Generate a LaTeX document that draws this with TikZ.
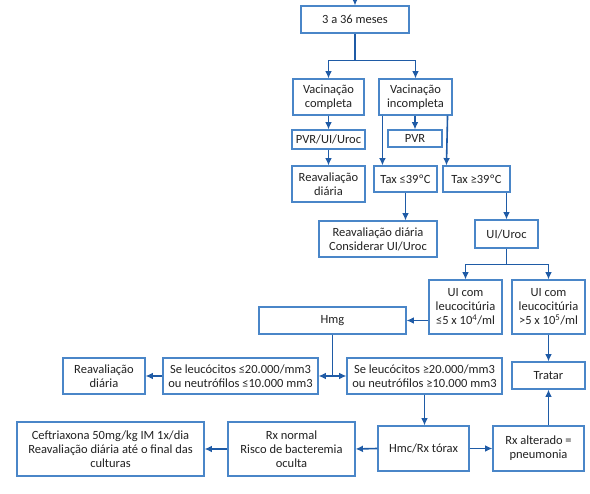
\documentclass[tikz,border=0pt]{standalone}
\usepackage{fontspec}
\setmainfont{Carlito}
\usepackage{xcolor}
\usepackage{tikz}
\usetikzlibrary{arrows.meta,calc,positioning}
\definecolor{boxline}{HTML}{4A86C8}
\definecolor{flow}{HTML}{1F5BA6}
\definecolor{ink}{HTML}{222222}
\tikzset{
  stepbox/.style={
    draw=boxline,
    line width=1.1pt,
    fill=white,
    align=center,
    text=ink,
    font=\fontsize{12.5}{14}\selectfont,
    inner sep=1pt
  },
  arr/.style={line width=1.6pt, draw=flow, -{Latex[length=2.6mm,width=2.4mm]}}
}
\newcommand{\boxat}[5]{%
  \node[stepbox, minimum width=#3, minimum height=#4] (#1) at (#2) {#5};
}

\begin{document}
\begin{tikzpicture}[x=1pt,y=-1pt]
\path[use as bounding box, fill=white] (0,0) rectangle (590,494);

% idade e vacinacao
\boxat{age}{355,19.5}{108pt}{27pt}{3 a 36 meses}
\boxat{compl}{328.5,97}{71pt}{36pt}{Vacinação\\completa}
\boxat{incompl}{415.5,97}{73pt}{36pt}{Vacinação\\incompleta}
\boxat{pvrui}{328.5,139.5}{73pt}{19pt}{PVR/UI/Uroc}
\boxat{reavA}{328.5,184}{73pt}{36pt}{Reavaliação\\diária}
\boxat{pvr}{415,138.5}{54pt}{17pt}{PVR}
\boxat{taxlow}{405.5,179}{63pt}{26pt}{Tax ≤39ºC}
\boxat{taxhigh}{476.5,179}{67pt}{26pt}{Tax ≥39ºC}
\boxat{reavB}{378,239}{118pt}{36pt}{Reavaliação diária\\Considerar UI/Uroc}
\boxat{uiuroc}{506.5,234}{63pt}{28pt}{UI/Uroc}

% urina
\boxat{uilow}{465.5,307}{73pt}{54pt}{UI com\\leucocitúria\\≤5 x 10\textsuperscript{4}/ml}
\boxat{uihigh}{548.5,307}{73pt}{54pt}{UI com\\leucocitúria\\>5 x 10\textsuperscript{5}/ml}
\boxat{hmg}{332.5,320.5}{147pt}{27pt}{Hmg}
\boxat{reavC}{104,376}{82pt}{36pt}{Reavaliação\\diária}
\boxat{seleft}{240.5,376}{155pt}{36pt}{Se leucócitos ≤20.000/mm3\\ou neutrófilos ≤10.000 mm3}
\boxat{seright}{424.5,376}{155pt}{36pt}{Se leucócitos ≥20.000/mm3\\ou neutrófilos ≥10.000 mm3}
\boxat{tratar}{548.5,375.5}{73pt}{27pt}{Tratar}

% radiografia
\boxat{ceft}{110.5,449}{187pt}{54pt}{Ceftriaxona 50mg/kg IM 1x/dia\\Reavaliação diária até o final das\\culturas}
\boxat{rxnorm}{291.5,449}{127pt}{54pt}{Rx normal\\Risco de bacteremia\\oculta}
\boxat{hmc}{423.5,448.5}{91pt}{45pt}{Hmc/Rx tórax}
\boxat{rxalt}{538.5,448.5}{91pt}{45pt}{Rx alterado =\\pneumonia}

\coordinate (entry) at (355,0);
\draw[arr] (entry) -- (age.north);
\draw[arr] (age.south) -- ++(0,27) -| (compl.north);
\draw[arr] (age.south) -- ++(0,27) -| (incompl.north);
\draw[arr] (compl.south) -- (pvrui.north);
\draw[arr] (pvrui.south) -- (reavA.north);
\draw[arr] ([xshift=4pt]incompl.south west) -- ([xshift=9pt]taxlow.north west);
\draw[arr] (incompl.south -| pvr.north) -- (pvr.north);
\draw[arr] ([xshift=-5pt]incompl.south east) -- ([xshift=4pt]taxhigh.north west);
\draw[arr] (taxlow.south) -- (taxlow.south |- reavB.north);
\draw[arr] (uiuroc.north |- taxhigh.south) -- (uiuroc.north);
\draw[arr] (uiuroc.south) -- ++(0,16) -| (uilow.north);
\draw[arr] (uiuroc.south) -- ++(0,16) -| (uihigh.north);
\draw[arr] (uilow.west |- hmg.east) -- (hmg.east);
\draw[arr] (hmg.south) |- (seleft.east);
\draw[arr] (hmg.south) |- (seright.west);
\draw[arr] (seleft.west) -- (reavC.east);
\draw[arr] (uihigh.south) -- (tratar.north);
\draw[arr] (seright.south) -- (seright.south |- hmc.north);
\draw[arr] (hmc.west) -- (rxnorm.east);
\draw[arr] (rxnorm.west) -- (ceft.east);
\draw[arr] (hmc.east) -- (rxalt.west);
\draw[arr] (tratar.south |- rxalt.north) -- (tratar.south);
\end{tikzpicture}
\end{document}
